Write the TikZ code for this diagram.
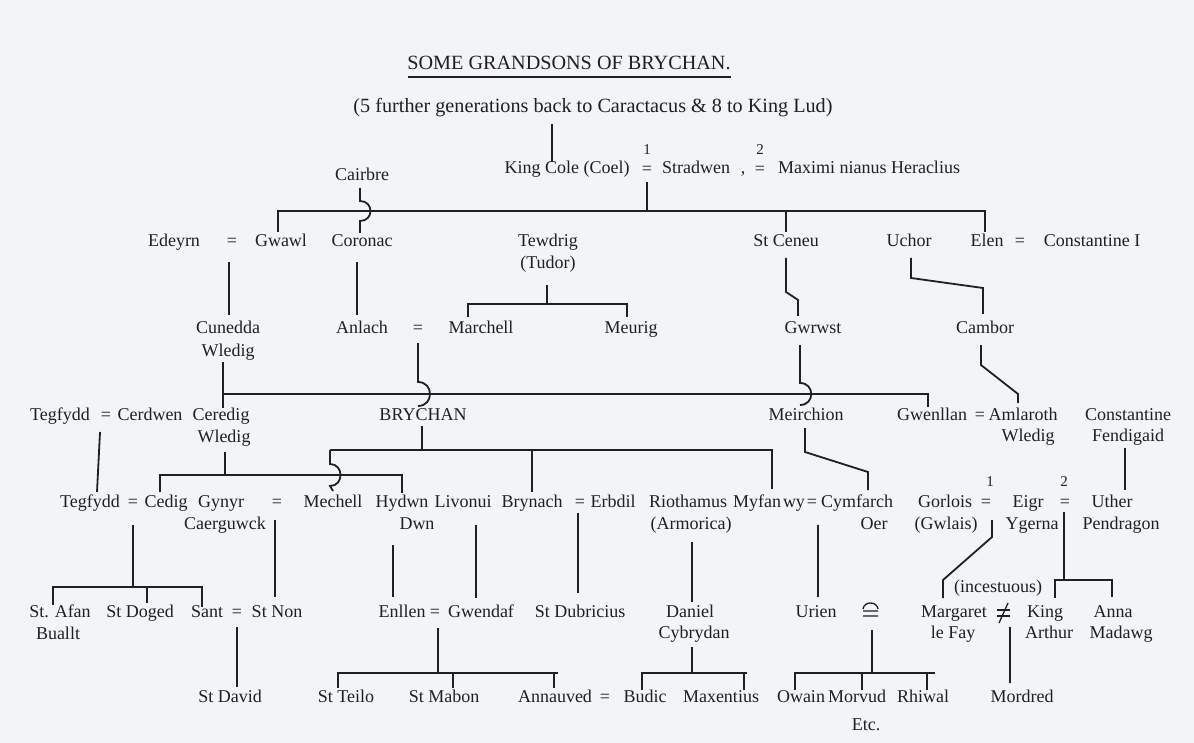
\documentclass[tikz,border=0pt]{standalone}
\usepackage{fontspec}
\setmainfont{Liberation Serif}
\definecolor{bg}{RGB}{242,244,246}
\definecolor{ink}{RGB}{32,32,34}
\begin{document}
\begin{tikzpicture}[x=1pt,y=-1pt,
  lbl/.style={inner sep=0pt, text=ink, font=\fontsize{18}{22}\selectfont, text height=12pt, text depth=4pt},
  big/.style={lbl, font=\fontsize{20.2}{24}\selectfont},
  num/.style={inner sep=0pt, text=ink, font=\fontsize{15}{18}\selectfont},
  ln/.style={draw=ink, line width=1.8pt, line join=miter},
  thin/.style={draw=ink, line width=1.3pt}]
\fill[bg] (0,0) rectangle (1194,743);
\useasboundingbox (0,0) rectangle (1194,743);

% ---- heading
\node[big] (title) at (569,66) {SOME GRANDSONS OF BRYCHAN.};
\coordinate (ulL) at (408,77); \coordinate (ulR) at (731,77);
\draw[thin] (ulL) -- (ulR);
\node[big] (sub) at (593,109) {(5 further generations back to Caractacus \& 8 to King Lud)};

% ---- row 1
\node[lbl] (cairbre) at (362,177) {Cairbre};
\node[lbl] (kingcole) at (567,170) {King Cole (Coel)};
\node[lbl] (eqA) at (647,171) {=};
\node[num] (nA1) at (647,150) {1};
\node[lbl] (stradwen) at (696,170) {Stradwen};
\node[lbl] (comma) at (743,170) {,};
\node[lbl] (eqB) at (760,171) {=};
\node[num] (nA2) at (760,150) {2};
\node[lbl] (maxim) at (869,170) {Maximi nianus Heraclius};

% ---- row 2
\node[lbl] (edeyrn) at (174,243) {Edeyrn};
\node[lbl] (eqC) at (232,243) {=};
\node[lbl] (gwawl) at (281,243) {Gwawl};
\node[lbl] (coronac) at (362,243) {Coronac};
\node[lbl] (tewdrig) at (548,243) {Tewdrig};
\node[lbl] (tudor) at (548,265) {(Tudor)};
\node[lbl] (ceneu) at (786,243) {St Ceneu};
\node[lbl] (uchor) at (909,243) {Uchor};
\node[lbl] (elen) at (987,243) {Elen};
\node[lbl] (eqD) at (1020,243) {=};
\node[lbl] (constI) at (1092,243) {Constantine I};

% ---- row 3
\node[lbl] (cunedda) at (228,330) {Cunedda};
\node[lbl] (wledigA) at (228,352) {Wledig};
\node[lbl] (anlach) at (362,330) {Anlach};
\node[lbl] (eqE) at (418,330) {=};
\node[lbl] (marchell) at (481,330) {Marchell};
\node[lbl] (meurig) at (631,330) {Meurig};
\node[lbl] (gwrwst) at (813,330) {Gwrwst};
\node[lbl] (cambor) at (985,330) {Cambor};

% ---- row 4
\node[lbl] (tegfyddA) at (60,416) {Tegfydd};
\node[lbl] (eqF) at (106,416) {=};
\node[lbl] (cerdwen) at (150,416) {Cerdwen};
\node[lbl] (ceredig) at (221,416) {Ceredig};
\node[lbl] (wledigB) at (224,438) {Wledig};
\node[lbl] (brychan) at (423,416) {BRYCHAN};
\node[lbl] (meirchion) at (806,416) {Meirchion};
\node[lbl] (gwenllan) at (932,416) {Gwenllan};
\node[lbl] (eqG) at (980,416) {=};
\node[lbl] (amlaroth) at (1023,416) {Amlaroth};
\node[lbl] (wledigC) at (1028,437) {Wledig};
\node[lbl] (constF) at (1128,416) {Constantine};
\node[lbl] (fendigaid) at (1128,437) {Fendigaid};

% ---- row 5
\node[lbl] (tegfyddB) at (90,503) {Tegfydd};
\node[lbl] (eqH) at (133,503) {=};
\node[lbl] (cedig) at (166,503) {Cedig};
\node[lbl] (gynyr) at (221,503) {Gynyr};
\node[lbl] (caerguwck) at (225,525) {Caerguwck};
\node[lbl] (eqI) at (277,503) {=};
\node[lbl] (mechell) at (333,503) {Mechell};
\node[lbl] (hydwn) at (402,503) {Hydwn};
\node[lbl] (dwn) at (417,525) {Dwn};
\node[lbl] (livonui) at (463,503) {Livonui};
\node[lbl] (brynach) at (532,503) {Brynach};
\node[lbl] (eqJ) at (580,503) {=};
\node[lbl] (erbdil) at (613,503) {Erbdil};
\node[lbl] (riothamus) at (688,503) {Riothamus};
\node[lbl] (armorica) at (691,525) {(Armorica)};
\node[lbl] (myfanwy) at (769,503) {Myfan\hspace{2pt}wy};
\node[lbl] (eqK) at (812,503) {=};
\node[lbl] (cymfarch) at (857,503) {Cymfarch};
\node[lbl] (oer) at (874,525) {Oer};
\node[lbl] (gorlois) at (945,503) {Gorlois};
\node[lbl] (gwlais) at (946,525) {(Gwlais)};
\node[lbl] (eqL) at (986,503) {=};
\node[num] (nB1) at (990,482) {1};
\node[lbl] (eigr) at (1028,503) {Eigr};
\node[lbl] (ygerna) at (1032,525) {Ygerna};
\node[lbl] (eqM) at (1065,503) {=};
\node[num] (nB2) at (1064,482) {2};
\node[lbl] (uther) at (1112,503) {Uther};
\node[lbl] (pendragon) at (1121,525) {Pendragon};

% ---- row 6
\node[lbl] (stafan) at (60,613) {St. Afan};
\node[lbl] (buallt) at (58,635) {Buallt};
\node[lbl] (stdoged) at (140,613) {St Doged};
\node[lbl] (sant) at (207,613) {Sant};
\node[lbl] (eqN) at (237,613) {=};
\node[lbl] (stnon) at (277,613) {St Non};
\node[lbl] (enllen) at (402,613) {Enllen};
\node[lbl] (eqO) at (435,613) {=};
\node[lbl] (gwendaf) at (481,613) {Gwendaf};
\node[lbl] (dubricius) at (580,613) {St Dubricius};
\node[lbl] (daniel) at (690,613) {Daniel};
\node[lbl] (cybrydan) at (694,634) {Cybrydan};
\node[lbl] (urien) at (816,613) {Urien};
\node[lbl] (margaret) at (954,613) {Margaret};
\node[lbl] (lefay) at (953,634) {le Fay};
\node[lbl] (incest) at (998,588) {(incestuous)};
\node[lbl] (king) at (1045,613) {King};
\node[lbl] (arthur) at (1049,634) {Arthur};
\node[lbl] (anna) at (1113,613) {Anna};
\node[lbl] (madawg) at (1121,634) {Madawg};

% ---- row 7
\node[lbl] (stdavid) at (230,698) {St David};
\node[lbl] (stteilo) at (346,698) {St Teilo};
\node[lbl] (stmabon) at (444,698) {St Mabon};
\node[lbl] (annauved) at (555,698) {Annauved};
\node[lbl] (eqP) at (605,698) {=};
\node[lbl] (budic) at (645,698) {Budic};
\node[lbl] (maxentius) at (721,698) {Maxentius};
\node[lbl] (owain) at (801,698) {Owain};
\node[lbl] (morvud) at (857,698) {Morvud};
\node[lbl] (rhiwal) at (923,698) {Rhiwal};
\node[lbl] (etc) at (866,726) {Etc.};
\node[lbl] (mordred) at (1022,698) {Mordred};

% ---- special marriage signs
\draw[thin] (863,611) -- (878,611) (863,616) -- (878,616)
  (863,609) .. controls (864,601) and (877,601) .. (878,609);
\draw[thin] (997,610) -- (1010,610) (997,616) -- (1010,616);
\draw[thin] (999,623) -- (1008,603);

% ---- connectors: generation 1
\draw[ln] (552,124) -- (552,162);
\draw[ln] (647,182) -- (647,211);
\draw[ln] (278,232) -- (278,211) -- (985,211) -- (985,232);
\draw[ln] (786,211) -- (786,232);
\draw[ln] (360,188) -- (360,201) .. controls (374,201) and (374,221) .. (360,221) -- (360,233);

% generation 2
\draw[ln] (229,262) -- (229,315);
\draw[ln] (357,262) -- (357,315);
\draw[ln] (547,285) -- (547,304);
\draw[ln] (468,317) -- (468,304) -- (627,304) -- (627,317);
\draw[ln] (786,258) -- (786,292) -- (798,300) -- (798,316);
\draw[ln] (911,258) -- (911,278) -- (983,288) -- (983,314);

% generation 3
\draw[ln] (223,362) -- (223,408);
\draw[ln] (223,394) -- (928,394) -- (928,407);
\draw[ln] (418,343) -- (418,382) .. controls (434,382) and (434,406) .. (418,406);
\draw[ln] (800,345) -- (800,383) .. controls (815,383) and (815,405) .. (800,405);
\draw[ln] (981,345) -- (981,365) -- (1018,394) -- (1018,403);

% generation 4
\draw[ln] (100,432) -- (97,492);
\draw[ln] (225,452) -- (225,475);
\draw[ln] (160,492) -- (160,475) -- (402,475) -- (402,493);
\draw[ln] (422,426) -- (422,450);
\draw[ln] (330,450) -- (772,450) -- (772,489);
\draw[ln] (532,450) -- (532,492);
\draw[ln] (330,450) -- (330,464) .. controls (344,464) and (344,486) .. (330,486) -- (333,491);
\draw[ln] (805,428) -- (805,452) -- (868,472) -- (868,490);
\draw[ln] (1125,448) -- (1125,490);

% generation 5
\draw[ln] (133,525) -- (133,587);
\draw[ln] (53,605) -- (53,587) -- (202,587) -- (202,607);
\draw[ln] (147,587) -- (147,603);
\draw[ln] (275,520) -- (275,597);
\draw[ln] (393,545) -- (393,597);
\draw[ln] (476,525) -- (476,598);
\draw[ln] (578,513) -- (578,593);
\draw[ln] (692,542) -- (692,602);
\draw[ln] (818,525) -- (818,597);
\draw[ln] (992,520) -- (992,537) -- (943,580) -- (943,598);
\draw[ln] (1064,512) -- (1064,580);
\draw[ln] (1055,598) -- (1055,580) -- (1112,580) -- (1112,597);

% generation 6
\draw[ln] (237,627) -- (237,687);
\draw[ln] (438,628) -- (438,673);
\draw[ln] (338,688) -- (338,673) -- (558,673);
\draw[ln] (453,673) -- (453,688);
\draw[ln] (554,673) -- (554,688);
\draw[ln] (692,647) -- (692,673);
\draw[ln] (642,690) -- (642,673) -- (747,673);
\draw[ln] (744,673) -- (744,690);
\draw[ln] (872,630) -- (872,673);
\draw[ln] (795,690) -- (795,673) -- (935,673);
\draw[ln] (862,673) -- (862,690);
\draw[ln] (927,673) -- (927,690);
\draw[ln] (1010,627) -- (1010,683);
\end{tikzpicture}
\end{document}
